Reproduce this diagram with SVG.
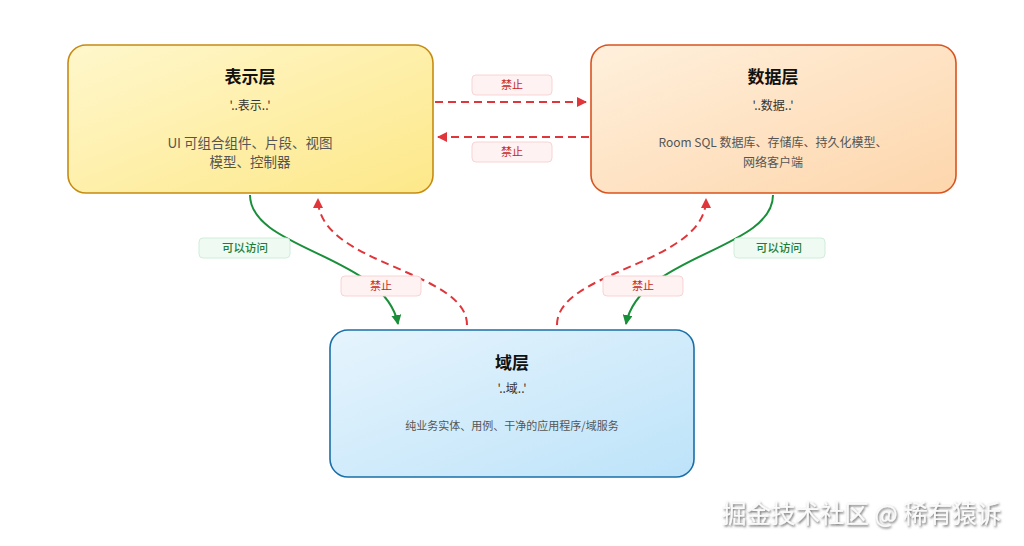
<svg xmlns="http://www.w3.org/2000/svg" width="1024" height="546" viewBox="0 0 1024 546">
<defs>
<linearGradient id="gY" x1="0" y1="0" x2="1" y2="1"><stop offset="0" stop-color="#fff7cc"/><stop offset="1" stop-color="#fde889"/></linearGradient>
<linearGradient id="gO" x1="0" y1="0" x2="1" y2="1"><stop offset="0" stop-color="#fff0dc"/><stop offset="1" stop-color="#fdd6ac"/></linearGradient>
<linearGradient id="gB" x1="0" y1="0" x2="1" y2="1"><stop offset="0" stop-color="#e6f4fd"/><stop offset="1" stop-color="#bde3f9"/></linearGradient>
<marker id="aR" viewBox="0 0 10 10" refX="9" refY="5" markerWidth="5" markerHeight="5" orient="auto"><path d="M0,0 L10,5 L0,10 z" fill="#e0353a"/></marker>
<marker id="aG" viewBox="0 0 10 10" refX="9" refY="5" markerWidth="5" markerHeight="5" orient="auto"><path d="M0,0 L10,5 L0,10 z" fill="#1a8f3a"/></marker>
<filter id="sh" x="-5%" y="-20%" width="110%" height="150%"><feDropShadow dx="1" dy="1.5" stdDeviation="0.8" flood-color="#555" flood-opacity="0.9"/></filter>
</defs>
<style>
text{font-family:"Noto Sans CJK SC","Noto Sans",sans-serif;text-anchor:middle}
.t{font-size:17px;font-weight:600;fill:#111}
.s{font-size:12px;fill:#333}
.b{font-size:13.5px;fill:#555}
.bd{font-size:12px;fill:#555}
.bs{font-size:11px;fill:#555}
.node rect{stroke-width:1.6}
.red{fill:none;stroke:#e0353a;stroke-width:2;stroke-dasharray:8,5}
.grn{fill:none;stroke:#1a8f3a;stroke-width:2}
.lr{fill:#fff2f2;stroke:#f9d3d3;stroke-width:1}
.lg{fill:#effaf2;stroke:#cfeeda;stroke-width:1}
.tr{font-size:11px;fill:#c62828}
.tg{font-size:11.5px;fill:#1e7e34;font-weight:500}
.wm{font-size:24.5px;fill:#fafafa;text-anchor:start}
</style>
<rect width="1024" height="546" fill="#ffffff"/>
<g id="presentation" class="node">
<rect x="68" y="45" width="365" height="148" rx="18" fill="url(#gY)" stroke="#c68b13"/>
<text class="t" x="250" y="83">表示层</text>
<text class="s" x="250" y="110">'..表示..'</text>
<text class="b" x="250" y="148">UI 可组合组件、片段、视图</text>
<text class="b" x="250" y="167">模型、控制器</text>
</g>
<g id="data" class="node">
<rect x="591" y="45" width="365" height="148" rx="18" fill="url(#gO)" stroke="#d9531e"/>
<text class="t" x="773" y="83">数据层</text>
<text class="s" x="773" y="110">'..数据..'</text>
<text class="bd" x="773" y="147">Room SQL 数据库、存储库、持久化模型、</text>
<text class="bd" x="773" y="167">网络客户端</text>
</g>
<g id="domain" class="node">
<rect x="330" y="330" width="364" height="147" rx="18" fill="url(#gB)" stroke="#1a6fa8"/>
<text class="t" x="512" y="369">域层</text>
<text class="s" x="512" y="393">'..域..'</text>
<text class="bs" x="512" y="430">纯业务实体、用例、干净的应用程序/域服务</text>
</g>
<g id="connectors">
<path class="red" d="M435,102 L586,102" marker-end="url(#aR)"/>
<path class="red" d="M589,137 L438,137" marker-end="url(#aR)"/>
<path class="grn" d="M250,195 C250,250 385,255 398,324" marker-end="url(#aG)"/>
<path class="red" d="M467,325 C467,270 318,265 318,199" marker-end="url(#aR)"/>
<path class="grn" d="M773,195 C773,250 639,255 626,324" marker-end="url(#aG)"/>
<path class="red" d="M557,325 C557,270 706,265 706,199" marker-end="url(#aR)"/>
<rect class="lr" x="472" y="75" width="80" height="20" rx="4"/>
<text class="tr" x="512" y="89">禁止</text>
<rect class="lr" x="472" y="142" width="80" height="20" rx="4"/>
<text class="tr" x="512" y="156">禁止</text>
<rect class="lg" x="199" y="238" width="91" height="20" rx="4"/>
<text class="tg" x="245" y="252">可以访问</text>
<rect class="lg" x="734" y="238" width="91" height="20" rx="4"/>
<text class="tg" x="779" y="252">可以访问</text>
<rect class="lr" x="341" y="276" width="80" height="20" rx="4"/>
<text class="tr" x="381" y="290">禁止</text>
<rect class="lr" x="603" y="276" width="80" height="20" rx="4"/>
<text class="tr" x="643" y="290">禁止</text>
</g>
<text class="wm" x="722" y="523" filter="url(#sh)">掘金技术社区 @ 稀有猿诉</text>
</svg>
